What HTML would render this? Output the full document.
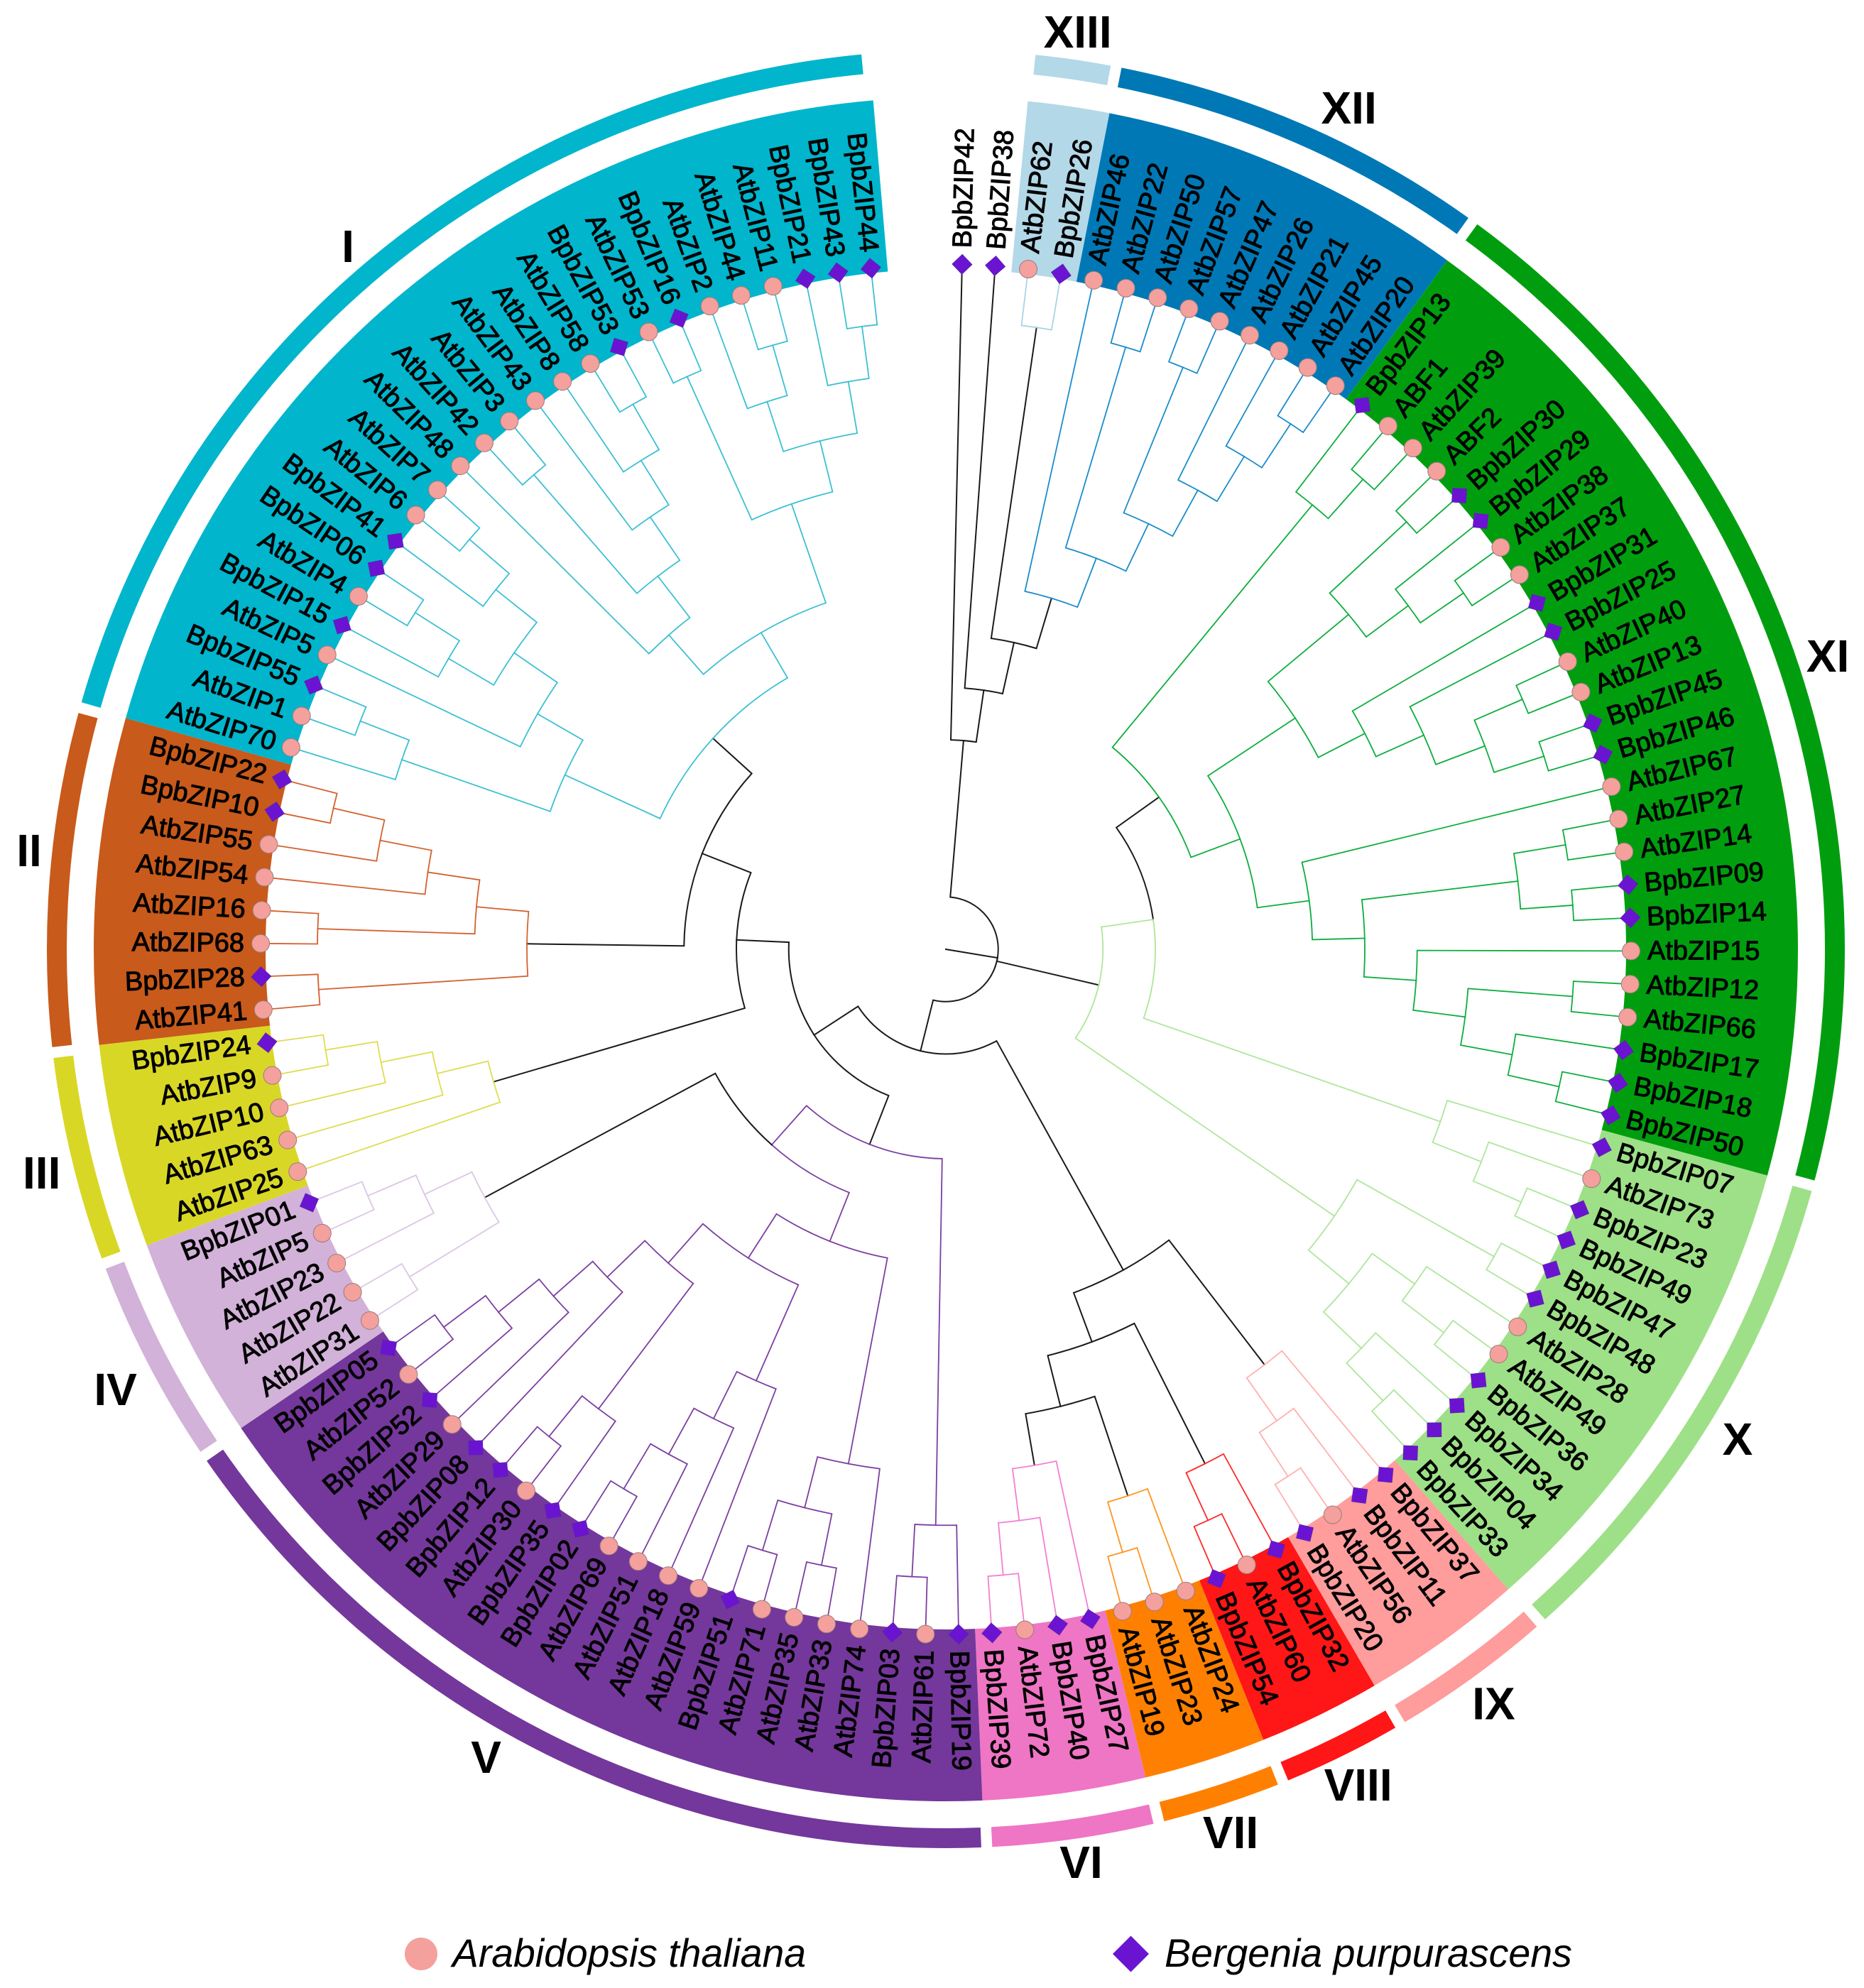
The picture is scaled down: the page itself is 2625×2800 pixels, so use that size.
<!DOCTYPE html>
<html lang="en">
<head>
<meta charset="utf-8">
<title>bZIP phylogenetic tree</title>
<style>
html,body{margin:0;padding:0;background:#fff;}
svg{display:block;}
text{font-family:"Liberation Sans",Arial,sans-serif;fill:#000;}
</style>
</head>
<body>
<svg id="chart" xmlns="http://www.w3.org/2000/svg" width="2625" height="2800" viewBox="0 0 2625 2800">
  <rect x="0" y="0" width="2625" height="2800" fill="#fff"/>
  <g id="wedges"></g>
  <g id="rings"></g>
  <g id="branches" fill="none" stroke-linecap="square" stroke-linejoin="miter"></g>
  <g id="markers"></g>
  <g id="labels"></g>
  <g id="cladeLabels"></g>
  <g>
    <circle cx="593" cy="2752" r="23" fill="#F4A09C"/>
    <text x="637" y="2770" font-size="55.3" font-style="italic">Arabidopsis thaliana</text>
    <polygon points="1592.5,2726.5 1618,2752 1592.5,2777.5 1567,2752" fill="#6A14D2"/>
    <text x="1640" y="2770" font-size="55.5" font-style="italic">Bergenia purpurascens</text>
  </g>
</svg>
<script>
// Clade categories, clockwise from the top, after the two ungrouped leaves
const cladeNames = ['XIII','XII','XI','X','IX','VIII','VII','VI','V','IV','III','II','I'];
const cladeLeafCounts = [2,9,25,12,4,3,3,4,21,5,5,8,25];
const ungroupedLeafCount = 2;
const cladeFill = ['#B3D8E8','#0078B6','#009E0E','#9EE087','#FF9C9C','#FF1616','#FF8000','#EF75C5','#74379B','#D2B2D9','#D9D726','#C85A1B','#00B5CC'];
const cladeBranch = ['#A8D4E6','#1B8CCB','#0DAE3E','#AEE69C','#FFB0B0','#FF2A2A','#FF9420','#F280D0','#7B3FA0','#DCC6E4','#DFDC50','#D2622E','#3CC0D4'];
const cladeLabelSpots = [[1517.6,45],[1899.6,152],[2574,924],[2447,2027],[2103.5,2399.5],[1912.6,2514],[1733,2581],[1522.5,2623],[684.6,2475],[162.6,1957],[58.7,1652],[41,1198],[490,347]];

// Tree topology in clockwise leaf order. "@X" marks an internal node whose branch is drawn in a clade colour.
const cladeXIII = ['AtbZIP62','BpbZIP26'];
const cladeXII = ['AtbZIP46',[['AtbZIP22','AtbZIP50'],[['AtbZIP57','AtbZIP47'],['AtbZIP26',['AtbZIP21',['AtbZIP45','AtbZIP20']]]]]];
const cladeXI = [['BpbZIP13',['ABF1','AtbZIP39']],
  [[[['ABF2','BpbZIP30'],['BpbZIP29',['AtbZIP38','AtbZIP37']]],['BpbZIP31',['BpbZIP25',[['AtbZIP40','AtbZIP13'],['BpbZIP45','BpbZIP46']]]]],
   ['AtbZIP67',[[['AtbZIP27','AtbZIP14'],['BpbZIP09','BpbZIP14']],['AtbZIP15',[['AtbZIP12','AtbZIP66'],['BpbZIP17',['BpbZIP18','BpbZIP50']]]]]]]];
const cladeXa = ['BpbZIP07',['AtbZIP73',['BpbZIP23','BpbZIP49']]];
const cladeXb = [['BpbZIP47','BpbZIP48'],[['AtbZIP28',['AtbZIP49','BpbZIP36']],['BpbZIP34',['BpbZIP04','BpbZIP33']]]];
const cladeIX = ['BpbZIP37',['BpbZIP11',['AtbZIP56','BpbZIP20']]];
const cladeVIII = ['BpbZIP32',['AtbZIP60','BpbZIP54']];
const cladeVII = ['AtbZIP24',['AtbZIP23','AtbZIP19']];
const cladeVI = ['BpbZIP27',['BpbZIP40',['AtbZIP72','BpbZIP39']]];
const cladeVa = ['BpbZIP19',['AtbZIP61','BpbZIP03']];
const cladeVb = ['AtbZIP74',[['AtbZIP33','AtbZIP35'],['AtbZIP71','BpbZIP51']]];
const cladeVc = ['AtbZIP59',['AtbZIP18',['AtbZIP51',['AtbZIP69','BpbZIP02']]]];
const cladeVd = [['BpbZIP35',['AtbZIP30','BpbZIP12']],['BpbZIP08',['AtbZIP29',['BpbZIP52',['AtbZIP52','BpbZIP05']]]]];
const cladeIV = [['AtbZIP31','AtbZIP22'],['AtbZIP23',['AtbZIP5','BpbZIP01']]];
const cladeIII = ['AtbZIP25',['AtbZIP63',['AtbZIP10',['AtbZIP9','BpbZIP24']]]];
const cladeII = [['AtbZIP41','BpbZIP28'],[['AtbZIP68','AtbZIP16'],['AtbZIP54',['AtbZIP55',['BpbZIP10','BpbZIP22']]]]];
const cladeI = [[['AtbZIP70',['AtbZIP1','BpbZIP55']],['AtbZIP5',[['BpbZIP15',['AtbZIP4','BpbZIP06']],['BpbZIP41',['AtbZIP6','AtbZIP7']]]]],
  [['AtbZIP48',[['AtbZIP42','AtbZIP3'],['AtbZIP43',['AtbZIP8',['AtbZIP58','BpbZIP53']]]]],
   [['AtbZIP53','BpbZIP16'],[['AtbZIP2',['AtbZIP44','AtbZIP11']],['BpbZIP21',['BpbZIP43','BpbZIP44']]]]]];
const treeTopology = [
  ['BpbZIP42',['BpbZIP38',[cladeXIII,cladeXII]]],
  ['@X',['@X',cladeXI,cladeXa],cladeXb],
  [[cladeIX,[cladeVIII,[cladeVII,cladeVI]]],
   [['@V',cladeVa,['@V',[cladeVb,[cladeVc,cladeVd]],cladeIV]],
    [cladeIII,[cladeII,cladeI]]]]
];

const NS = 'http://www.w3.org/2000/svg';
const CX = 1332, CY = 1337;
const FIRST_LEAF_ANGLE = 1.36, LEAF_STEP = 2.7745;
const LEVEL = 73.75, LEAF_R = 958, MARKER_R = 965, LABEL_R = 988;
const WEDGE_IN = 958, WEDGE_OUT = 1200, RING_IN = 1238, RING_OUT = 1266;

function leafAngle(i){ return FIRST_LEAF_ANGLE + LEAF_STEP * i; }
function px(r,a){ return CX + r * Math.sin(a * Math.PI / 180); }
function py(r,a){ return CY - r * Math.cos(a * Math.PI / 180); }
function f(v){ return v.toFixed(2); }
function make(tag, attrs, parent){
  const el = document.createElementNS(NS, tag);
  for (const k in attrs) el.setAttribute(k, attrs[k]);
  parent.appendChild(el);
  return el;
}
function sectorPath(a1,a2,r1,r2){
  const large = (a2 - a1) > 180 ? 1 : 0;
  return 'M' + f(px(r2,a1)) + ' ' + f(py(r2,a1)) +
    'A' + r2 + ' ' + r2 + ' 0 ' + large + ' 1 ' + f(px(r2,a2)) + ' ' + f(py(r2,a2)) +
    'L' + f(px(r1,a2)) + ' ' + f(py(r1,a2)) +
    'A' + r1 + ' ' + r1 + ' 0 ' + large + ' 0 ' + f(px(r1,a1)) + ' ' + f(py(r1,a1)) + 'Z';
}

// Clade index of each leaf position
const leafClade = [];
for (let i = 0; i < ungroupedLeafCount; i++) leafClade.push(-1);
cladeLeafCounts.forEach(function(n,c){ for (let i = 0; i < n; i++) leafClade.push(c); });

// Build layout from topology
let leafCounter = 0;
const leaves = [];
function build(node){
  if (typeof node === 'string'){
    const idx = leafCounter++;
    const leaf = {name:node, angle:leafAngle(idx), height:-1, r:LEAF_R, clade:leafClade[idx], kids:null};
    leaves.push(leaf);
    return leaf;
  }
  let items = node.slice();
  let forced = null;
  if (typeof items[0] === 'string' && items[0].charAt(0) === '@'){
    forced = cladeNames.indexOf(items[0].slice(1));
    items = items.slice(1);
  }
  const kids = items.map(build);
  const height = Math.max.apply(null, kids.map(function(k){ return k.height; })) + 1;
  const angle = (kids[0].angle + kids[kids.length-1].angle) / 2;
  let clade = kids[0].clade;
  kids.forEach(function(k){ if (k.clade !== clade) clade = -1; });
  if (forced !== null) clade = forced;
  return {angle:angle, height:height, r:LEVEL * (12 - height), clade:clade, kids:kids};
}
const root = build(treeTopology);

// Wedges and rings
const wedgeLayer = document.getElementById('wedges');
const ringLayer = document.getElementById('rings');
const cladeLabelLayer = document.getElementById('cladeLabels');
let start = ungroupedLeafCount;
cladeNames.forEach(function(name,c){
  const end = start + cladeLeafCounts[c];
  const a1 = leafAngle(start - 0.5);
  const a2 = leafAngle(end - 0.5);
  const wedge = make('path', {d:sectorPath(a1,a2,WEDGE_IN,WEDGE_OUT), fill:cladeFill[c]}, wedgeLayer);
  
  
  const ring = make('path', {d:sectorPath(a1 + 0.2, a2 - 0.5, RING_IN, RING_OUT), fill:cladeFill[c]}, ringLayer);
  
  
  const spot = cladeLabelSpots[c];
  const label = make('text', {x:spot[0], y:spot[1], 'font-size':64, 'font-weight':'bold', 'text-anchor':'middle', 'dominant-baseline':'central'}, cladeLabelLayer);
  
  
  label.textContent = name;
  start = end;
});

// Branches
const branchLayer = document.getElementById('branches');
function drawEdge(parent, child){
  const color = (parent.clade >= 0 && parent.clade === child.clade) ? cladeBranch[child.clade] : '#1a1a1a';
  const a1 = parent.angle, a2 = child.angle;
  const sweep = a2 > a1 ? 1 : 0;
  const large = Math.abs(a2 - a1) > 180 ? 1 : 0;
  const d = 'M' + f(px(parent.r,a1)) + ' ' + f(py(parent.r,a1)) +
    'A' + parent.r + ' ' + parent.r + ' 0 ' + large + ' ' + sweep + ' ' + f(px(parent.r,a2)) + ' ' + f(py(parent.r,a2)) +
    'L' + f(px(child.r,a2)) + ' ' + f(py(child.r,a2));
  const path = make('path', {d:d, stroke:color, 'stroke-width':color === '#1a1a1a' ? 2 : 1.8}, branchLayer);
  
  
}
function walk(node){
  if (!node.kids) return;
  node.kids.forEach(function(k){ drawEdge(node,k); walk(k); });
}
walk(root);
const rootStem = make('path', {d:'M' + CX + ' ' + CY + 'L' + f(px(root.r,root.angle)) + ' ' + f(py(root.r,root.angle)), stroke:'#1a1a1a', 'stroke-width':2}, branchLayer);



// Markers and labels
const markerLayer = document.getElementById('markers');
const labelLayer = document.getElementById('labels');
leaves.forEach(function(leaf){
  const a = leaf.angle;
  const mx = px(MARKER_R,a), my = py(MARKER_R,a);
  let marker;
  if (leaf.name.indexOf('Bpb') === 0){
    marker = make('rect', {x:f(mx-10), y:f(my-10), width:20, height:20, fill:'#6A14D2', stroke:'#5a2a9a', 'stroke-width':0.6, transform:'rotate(' + f(a+45) + ' ' + f(mx) + ' ' + f(my) + ')'}, markerLayer);
    
  } else {
    marker = make('circle', {cx:f(mx), cy:f(my), r:12.5, fill:'#F4A09C', stroke:'#9a7c7c', 'stroke-width':1}, markerLayer);
    
  }
  
  const right = a < 180;
  const text = make('text', {
    x: right ? CX + LABEL_R : CX - LABEL_R,
    y: CY,
    'font-size': 38,
    'text-anchor': right ? 'start' : 'end',
    'dominant-baseline': 'central',
    stroke: '#000',
    'stroke-width': 1,
    transform: 'rotate(' + f(right ? a - 90 : a + 90) + ' ' + CX + ' ' + CY + ')'
  }, labelLayer);
  
  
  text.textContent = leaf.name;
});
</script>
</body>
</html>
